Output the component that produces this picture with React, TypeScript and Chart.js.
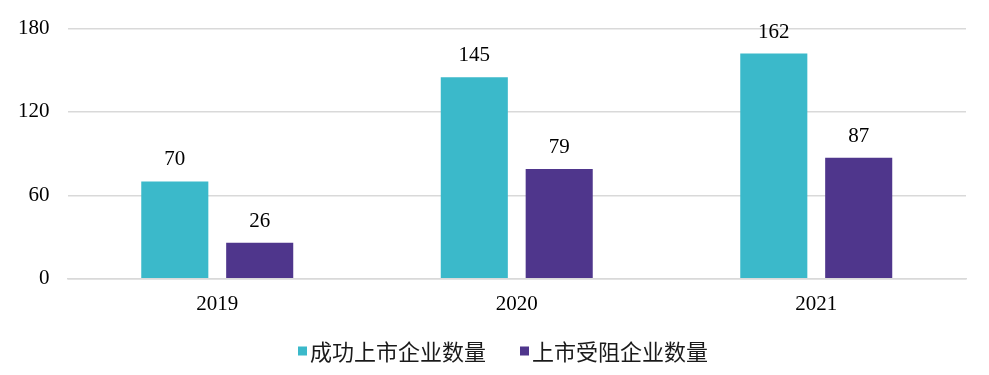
import React, { useEffect, useRef } from "react";
import { Chart, registerables } from "chart.js";

Chart.register(...registerables);

const categories = ["2019", "2020", "2021"];
const successValues = [70, 145, 162];
const blockedValues = [26, 79, 87];
const seriesNames = ["成功上市企业数量", "上市受阻企业数量"];
const yTicks = [0, 60, 120, 180];

const SERIF = '"Liberation Serif", "Times New Roman", serif';
const CJK = '"Noto Sans CJK SC", sans-serif';

const valueLabels = {
  id: "valueLabels",
  afterDatasetsDraw(chart: any) {
    const ctx = chart.ctx;
    ctx.save();
    ctx.font = "21px " + SERIF;
    ctx.fillStyle = "#000";
    ctx.textAlign = "center";
    ctx.textBaseline = "alphabetic";
    chart.data.datasets.forEach((ds: any, i: number) => {
      const meta = chart.getDatasetMeta(i);
      meta.data.forEach((el: any, j: number) => {
        ctx.fillText(String(ds.data[j]), el.x, el.y - 16);
      });
    });
    ctx.restore();
  },
};

const bottomLegend = {
  id: "bottomLegend",
  afterDraw(chart: any) {
    const ctx = chart.ctx;
    ctx.save();
    ctx.font = "22px " + CJK;
    ctx.textBaseline = "middle";
    ctx.textAlign = "left";
    const box = 9;
    const gap = 3;
    const itemGap = 34;
    const items = chart.data.datasets.map((ds: any) => ({
      label: ds.label,
      color: ds.backgroundColor,
      w: ctx.measureText(ds.label).width,
    }));
    const total =
      items.reduce((s: number, it: any) => s + box + gap + it.w, 0) + itemGap * (items.length - 1);
    const centerX = 503;
    const y = 352;
    let x = centerX - total / 2;
    items.forEach((it: any) => {
      ctx.fillStyle = it.color;
      ctx.fillRect(x, y - box / 2 - 1, box, box);
      x += box + gap;
      ctx.fillStyle = "#1a1a1a";
      ctx.fillText(it.label, x, y);
      x += it.w + itemGap;
    });
    ctx.restore();
  },
};

export default function App() {
  const ref = useRef<HTMLCanvasElement>(null);
  useEffect(() => {
    document.body.style.margin = "0";
    const chart = new Chart(ref.current!, {
      type: "bar",
      data: {
        labels: categories,
        datasets: [
          { label: seriesNames[0], data: successValues, backgroundColor: "#3BB9CA" },
          { label: seriesNames[1], data: blockedValues, backgroundColor: "#4F368C" },
        ],
      },
      options: {
        animation: false,
        responsive: false,
        maintainAspectRatio: false,
        layout: { padding: { left: 0, right: 23, top: 0, bottom: 53 } },
        datasets: { bar: { categoryPercentage: 0.567, barPercentage: 0.79 } },
        scales: {
          x: {
            grid: { display: false },
            border: { display: true, color: "#d9d9d9", width: 1.5 },
            ticks: {
              color: "#000",
              font: { family: SERIF, size: 21 },
              padding: 5,
            },
          },
          y: {
            min: 0,
            max: 180,
            afterBuildTicks: (axis: any) => {
              axis.ticks = yTicks.map((v) => ({ value: v }));
            },
            grid: { color: "#d9d9d9", lineWidth: 1.5, drawTicks: false },
            border: { display: false },
            ticks: {
              color: "#000",
              font: { family: SERIF, size: 21, lineHeight: 1 },
              padding: 18,
            },
          },
        },
        plugins: {
          legend: { display: false },
          tooltip: { enabled: false },
        },
      },
      plugins: [valueLabels, bottomLegend],
    });
    return () => chart.destroy();
  }, []);
  return (
    <div style={{ width: 989, height: 375, position: "relative" }}>
      <canvas ref={ref} width={989} height={375} style={{ width: 989, height: 375 }} />
    </div>
  );
}
